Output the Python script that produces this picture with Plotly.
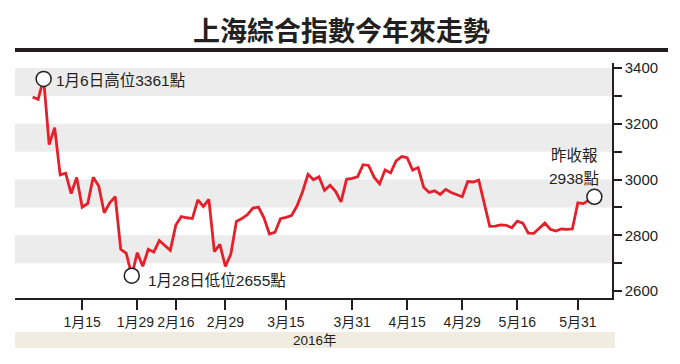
import plotly.graph_objects as go

# ---- data ----
months_days = {
    1: [4, 5, 6, 7, 8, 11, 12, 13, 14, 15, 18, 19, 20, 21, 22, 25, 26, 27, 28, 29],
    2: [1, 2, 3, 4, 5, 15, 16, 17, 18, 19, 22, 23, 24, 25, 26, 29],
    3: [1, 2, 3, 4, 7, 8, 9, 10, 11, 14, 15, 16, 17, 18, 21, 22, 23, 24, 25, 28, 29, 30, 31],
    4: [1, 5, 6, 7, 8, 11, 12, 13, 14, 15, 18, 19, 20, 21, 22, 25, 26, 27, 28, 29],
    5: [3, 4, 5, 6, 9, 10, 11, 12, 13, 16, 17, 18, 19, 20, 23, 24, 25, 26, 27, 30, 31],
    6: [1, 2, 3],
}
dates = [f"2016-{m:02d}-{d:02d}" for m, ds in months_days.items() for d in ds]

closes = [
    3296.26, 3287.71, 3361.84, 3125.00, 3186.41, 3016.70, 3022.86, 2949.60, 3007.65, 2900.97,
    2913.84, 3007.74, 2976.69, 2880.48, 2916.56, 2938.51, 2749.79, 2735.56, 2655.66, 2737.60,
    2688.85, 2749.57, 2739.25, 2781.02, 2763.49, 2746.20, 2836.57, 2867.34, 2862.89, 2860.02,
    2927.18, 2903.33, 2928.90, 2741.25, 2767.21, 2687.98,
    2733.17, 2849.68, 2859.76, 2874.15, 2897.34, 2901.39, 2862.56, 2804.73, 2810.31, 2859.50,
    2864.37, 2870.43, 2904.83, 2955.15, 3018.80, 2999.36, 3009.96, 2960.97, 2979.43, 2957.82,
    2919.83, 3000.65, 3003.92,
    3009.53, 3053.07, 3050.59, 3008.42, 2984.96, 3033.96, 3023.65, 3066.64, 3082.36, 3078.12,
    3033.66, 3042.82, 2972.58, 2953.67, 2959.24, 2946.67, 2964.70, 2953.50, 2945.59, 2938.32,
    2992.64, 2991.27, 2997.84, 2913.25, 2832.11, 2832.59, 2837.04, 2835.86, 2827.11, 2850.86,
    2843.65, 2807.51, 2806.91, 2825.48, 2843.65, 2821.67, 2815.09, 2822.44, 2821.05, 2822.45,
    2916.62,
    2913.51, 2925.23, 2938.68,
]

tick_dates = ["2016-01-15", "2016-01-29", "2016-02-16", "2016-02-29", "2016-03-15",
              "2016-03-31", "2016-04-15", "2016-04-29", "2016-05-16", "2016-05-31"]
tick_labels = ["1月15", "1月29", "2月16", "2月29", "3月15", "3月31", "4月15", "4月29", "5月16", "5月31"]

y_ticks = [2600, 2700, 2800, 2900, 3000, 3100, 3200, 3300, 3400]
y_tick_labels = ["2600", "", "2800", "", "3000", "", "3200", "", "3400"]
bands = [(2700, 2800), (2900, 3000), (3100, 3200), (3300, 3400)]

high_date, high_val = "2016-01-06", 3361
low_date, low_val = "2016-01-28", 2655
last_date, last_val = "2016-06-03", 2938

title = "上海綜合指數今年來走勢"
year_label = "2016年"

# ---- figure ----
idx = list(range(len(dates)))
pos = {d: i for i, d in enumerate(dates)}

L, R, T, B = 15, 612, 63, 298
def pxx(px):
    return (px - L) / (R - L)
def pxy(py):
    return (B - py) / (B - T)

# nudge the crowded "1月29" label slightly to the left, as in the original
tick_text = [t + ("\u00a0" if t == "1月29" else "") for t in tick_labels]

fig = go.Figure()
fig.add_trace(go.Scatter(
    x=idx, y=closes, mode="lines",
    line=dict(color="#e5202b", width=2.8),
    hoverinfo="skip", showlegend=False,
))
fig.add_trace(go.Scatter(
    x=[pos[high_date], pos[low_date], pos[last_date]],
    y=[high_val, low_val, last_val],
    mode="markers",
    marker=dict(symbol="circle", size=15, color="white", line=dict(color="#222", width=1.5)),
    hoverinfo="skip", showlegend=False, cliponaxis=False,
))

shapes = []
for a, b in bands:
    shapes.append(dict(type="rect", xref="paper", yref="y", x0=0, x1=1, y0=a, y1=b,
                       fillcolor="#ececec", line=dict(width=0), layer="below"))
# title rule
shapes.append(dict(type="rect", xref="paper", yref="paper", x0=pxx(15), x1=pxx(668),
                   y0=pxy(52), y1=pxy(48), fillcolor="#231f20", line=dict(width=0)))
# year band
shapes.append(dict(type="rect", xref="paper", yref="paper", x0=pxx(15), x1=pxx(615),
                   y0=pxy(348), y1=pxy(332), fillcolor="#f0ece0", line=dict(width=0)))

font_txt = "Liberation Sans, Noto Sans CJK TC, sans-serif"
annotations = [
    dict(x=pos[high_date], y=high_val, xref="x", yref="y", text="1月6日高位3361點",
         showarrow=False, xanchor="left", yanchor="middle", xshift=10, yshift=-2,
         font=dict(family=font_txt, size=15.5, color="#231f20")),
    dict(x=pos[low_date], y=low_val, xref="x", yref="y", text="1月28日低位2655點",
         showarrow=False, xanchor="left", yanchor="middle", xshift=14, yshift=-5,
         font=dict(family=font_txt, size=15.5, color="#231f20")),
    dict(x=pxx(600), y=pxy(155), xref="paper", yref="paper", text="昨收報",
         showarrow=False, xanchor="right", yanchor="middle",
         font=dict(family=font_txt, size=15.5, color="#231f20")),
    dict(x=pxx(601), y=pxy(178), xref="paper", yref="paper", text="2938點",
         showarrow=False, xanchor="right", yanchor="middle",
         font=dict(family=font_txt, size=15.5, color="#231f20")),
    dict(x=pxx(315), y=pxy(340), xref="paper", yref="paper", text=year_label,
         showarrow=False, xanchor="center", yanchor="middle",
         font=dict(family=font_txt, size=13.5, color="#231f20")),
    dict(x=pxx(341), y=pxy(29), xref="paper", yref="paper", text="<b>" + title + "</b>",
         showarrow=False, xanchor="center", yanchor="middle",
         font=dict(family="Noto Sans CJK TC, sans-serif", size=27, color="#231f20")),
]

fig.update_layout(
    width=680, height=364,
    margin=dict(l=L, r=680 - R, t=T, b=364 - B, autoexpand=False),
    paper_bgcolor="white", plot_bgcolor="white",
    shapes=shapes, annotations=annotations,
    showlegend=False,
    xaxis=dict(
        range=[-3.2, 105.2], showgrid=False, zeroline=False, automargin=False,
        showline=True, linecolor="#231f20", linewidth=1.5,
        ticks="outside", ticklen=10, tickwidth=1.5, tickcolor="#231f20",
        tickvals=[pos[d] for d in tick_dates], ticktext=tick_text, tickangle=0,
        tickfont=dict(family=font_txt, size=14, color="#231f20"),
    ),
    yaxis=dict(
        side="right", range=[2575, 3418], showgrid=False, zeroline=False, automargin=False,
        showline=True, linecolor="#231f20", linewidth=1.5,
        ticks="outside", ticklen=8, tickwidth=1.5, tickcolor="#231f20",
        tickvals=y_ticks, ticktext=y_tick_labels,
        tickfont=dict(family=font_txt, size=15, color="#231f20"),
    ),
)

fig.write_html("out.html", config={"displayModeBar": False},
               post_script="document.body.style.margin='0px';")
